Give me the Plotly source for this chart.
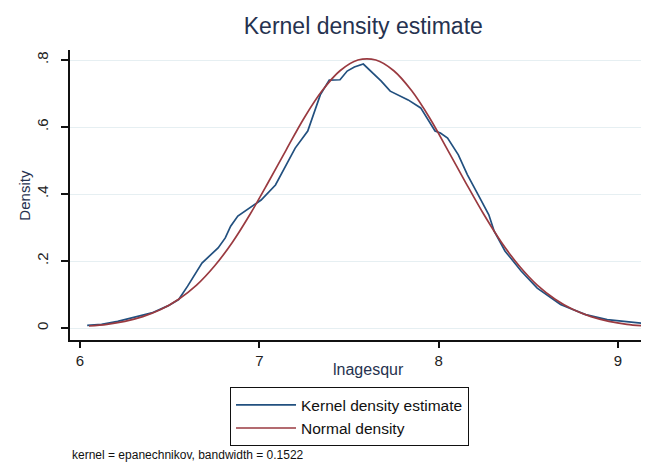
import plotly.graph_objects as go

# Kernel density estimate
kde_x = [6.04, 6.12, 6.21, 6.31, 6.40, 6.49, 6.55, 6.60, 6.64, 6.68, 6.73, 6.77, 6.81,
         6.84, 6.88, 6.94, 7.01, 7.09, 7.14, 7.20, 7.27, 7.31, 7.34, 7.39, 7.45, 7.49,
         7.53, 7.58, 7.62, 7.68, 7.73, 7.77, 7.83, 7.90, 7.98, 8.01, 8.05, 8.11, 8.16,
         8.22, 8.28, 8.31, 8.37, 8.46, 8.55, 8.68, 8.82, 8.94, 9.06, 9.21]
kde_y = [0.008, 0.011, 0.020, 0.032, 0.045, 0.066, 0.085, 0.125, 0.159, 0.194, 0.219,
         0.239, 0.269, 0.304, 0.334, 0.355, 0.382, 0.427, 0.478, 0.537, 0.588, 0.648,
         0.696, 0.740, 0.741, 0.767, 0.779, 0.788, 0.767, 0.737, 0.707, 0.696, 0.681,
         0.657, 0.588, 0.582, 0.567, 0.517, 0.458, 0.398, 0.338, 0.289, 0.230, 0.170,
         0.119, 0.070, 0.040, 0.025, 0.018, 0.010]

# Normal density
norm_x = [6.05, 6.15, 6.25, 6.35, 6.45, 6.55, 6.65, 6.75, 6.85, 6.95, 7.05, 7.15, 7.25,
          7.35, 7.45, 7.55, 7.65, 7.75, 7.85, 7.95, 8.05, 8.15, 8.25, 8.35, 8.45, 8.55,
          8.65, 8.75, 8.85, 8.95, 9.05, 9.15, 9.21]
norm_y = [0.006, 0.011, 0.020, 0.034, 0.055, 0.086, 0.128, 0.185, 0.256, 0.341, 0.435,
          0.532, 0.627, 0.708, 0.768, 0.800, 0.800, 0.768, 0.708, 0.627, 0.532, 0.435,
          0.341, 0.256, 0.185, 0.128, 0.086, 0.055, 0.034, 0.020, 0.011, 0.006, 0.004]

x_ticks = [6, 7, 8, 9]
y_ticks = [0, 0.2, 0.4, 0.6, 0.8]
y_tick_labels = ["0", ".2", ".4", ".6", ".8"]

FONT = "Liberation Sans, Arial, sans-serif"

fig = go.Figure()
fig.add_trace(go.Scatter(x=kde_x, y=kde_y, mode="lines", name="Kernel density estimate",
                         line=dict(color="#22507f", width=1.7)))
fig.add_trace(go.Scatter(x=norm_x, y=norm_y, mode="lines", name="Normal density",
                         line=dict(color="#9a3a40", width=1.7, shape="spline")))

fig.update_layout(
    width=649, height=468,
    margin=dict(l=62, r=0, t=42, b=136),
    paper_bgcolor="white", plot_bgcolor="white",
    font=dict(family=FONT, color="#111111"),
    title=dict(text="Kernel density estimate", x=0.5475, xanchor="center",
               y=0.962, yanchor="middle",
               font=dict(size=23, color="#26324f", family=FONT)),
    showlegend=True,
    legend=dict(x=0.2726, xanchor="left", y=-0.163, yanchor="top",
                bordercolor="#111111", borderwidth=1, bgcolor="white",
                font=dict(size=15.5, color="#111111", family=FONT),
                tracegroupgap=0, itemwidth=60),
    xaxis=dict(range=[5.944, 9.218], tickvals=x_ticks, ticks="outside", ticklen=6,
               tickwidth=1.5, tickcolor="#111111", showline=True, linecolor="#111111",
               linewidth=1.5, showgrid=False, zeroline=False,
               tickfont=dict(size=15, color="#222222")),
    yaxis=dict(range=[-0.0358, 0.8299], tickvals=y_ticks, ticktext=y_tick_labels,
               ticks="outside", ticklen=7, tickwidth=1.5, tickcolor="#111111",
               showline=True, linecolor="#111111", linewidth=1.5,
               showgrid=True, gridcolor="#e6eff2", gridwidth=1, zeroline=False,
               tickangle=-90, ticklabelstandoff=7,
               tickfont=dict(size=15, color="#222222")),
    annotations=[
        dict(text="lnagesqur", xref="paper", yref="paper", x=0.5085, y=-0.1,
             xanchor="center", yanchor="middle", showarrow=False,
             font=dict(size=16, color="#26324f", family=FONT)),
        dict(text="Density", xref="paper", yref="paper", x=-0.079, y=0.5,
             xanchor="center", yanchor="middle", showarrow=False, textangle=-90,
             font=dict(size=15, color="#26324f", family=FONT)),
        dict(text="kernel = epanechnikov, bandwidth = 0.1522", xref="paper", yref="paper",
             x=0.0, y=-0.397, xanchor="left", yanchor="middle", showarrow=False,
             font=dict(size=12, color="#111111", family=FONT)),
    ],
)

fig.write_html("out.html")
